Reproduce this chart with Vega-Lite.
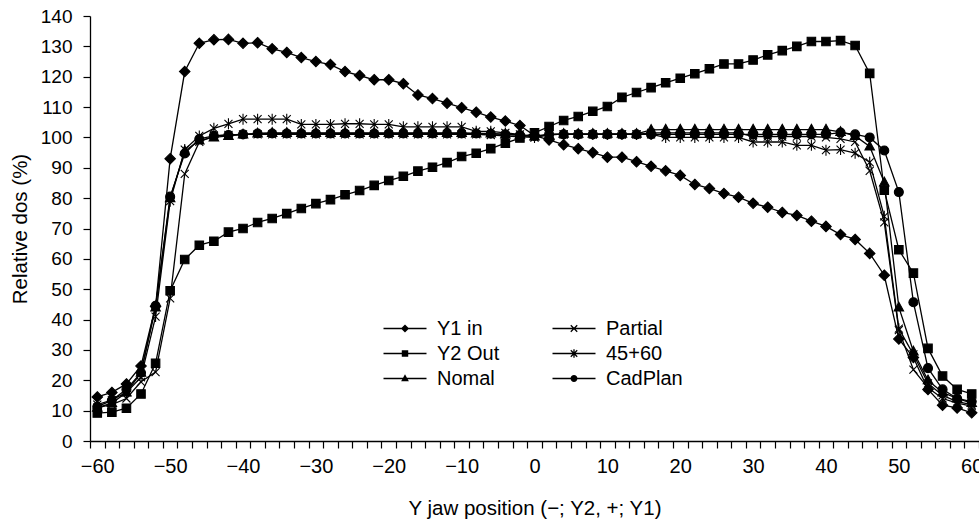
{
"$schema": "https://vega.github.io/schema/vega-lite/v6.json",
"width": 889, "height": 425,
"autosize": {"type": "none"},
"padding": {"left": 90, "top": 16, "right": 0, "bottom": 82},
"background": "white",
"config": {"view": {"stroke": null}, "font": "Liberation Sans",
 "axis": {"domainColor": "black", "domainWidth": 1.3, "tickColor": "black", "tickWidth": 1.2, "labelColor": "black", "titleColor": "black", "titleFontWeight": "normal", "grid": false, "labelFont": "Liberation Sans", "titleFont": "Liberation Sans"}},
"datasets": {"d": [
{"x":-60,"s":"Y1 in","v":14.5},{"x":-58,"s":"Y1 in","v":16},{"x":-56,"s":"Y1 in","v":18.8},{"x":-54,"s":"Y1 in","v":24.7},{"x":-52,"s":"Y1 in","v":44.4},{"x":-50,"s":"Y1 in","v":93},{"x":-48,"s":"Y1 in","v":121.7},{"x":-46,"s":"Y1 in","v":131},{"x":-44,"s":"Y1 in","v":132.2},{"x":-42,"s":"Y1 in","v":132.3},{"x":-40,"s":"Y1 in","v":131},{"x":-38,"s":"Y1 in","v":131.2},{"x":-36,"s":"Y1 in","v":129.2},{"x":-34,"s":"Y1 in","v":128},{"x":-32,"s":"Y1 in","v":126.3},{"x":-30,"s":"Y1 in","v":125},{"x":-28,"s":"Y1 in","v":124},{"x":-26,"s":"Y1 in","v":121.7},{"x":-24,"s":"Y1 in","v":120.4},{"x":-22,"s":"Y1 in","v":119},{"x":-20,"s":"Y1 in","v":119},{"x":-18,"s":"Y1 in","v":117.7},{"x":-16,"s":"Y1 in","v":114},{"x":-14,"s":"Y1 in","v":112.8},{"x":-12,"s":"Y1 in","v":111.3},{"x":-10,"s":"Y1 in","v":109.8},{"x":-8,"s":"Y1 in","v":108.3},{"x":-6,"s":"Y1 in","v":106.7},{"x":-4,"s":"Y1 in","v":105.4},{"x":-2,"s":"Y1 in","v":103.9},{"x":0,"s":"Y1 in","v":100.6},{"x":2,"s":"Y1 in","v":99.2},{"x":4,"s":"Y1 in","v":97.6},{"x":6,"s":"Y1 in","v":96.3},{"x":8,"s":"Y1 in","v":95},{"x":10,"s":"Y1 in","v":93.5},{"x":12,"s":"Y1 in","v":93.5},{"x":14,"s":"Y1 in","v":92},{"x":16,"s":"Y1 in","v":90.5},{"x":18,"s":"Y1 in","v":89},{"x":20,"s":"Y1 in","v":87.5},{"x":22,"s":"Y1 in","v":84.5},{"x":24,"s":"Y1 in","v":83.2},{"x":26,"s":"Y1 in","v":81.5},{"x":28,"s":"Y1 in","v":80.3},{"x":30,"s":"Y1 in","v":78.3},{"x":32,"s":"Y1 in","v":77},{"x":34,"s":"Y1 in","v":75.3},{"x":36,"s":"Y1 in","v":74.3},{"x":38,"s":"Y1 in","v":72.4},{"x":40,"s":"Y1 in","v":70.7},{"x":42,"s":"Y1 in","v":68},{"x":44,"s":"Y1 in","v":66.4},{"x":46,"s":"Y1 in","v":61.8},{"x":48,"s":"Y1 in","v":54.6},{"x":50,"s":"Y1 in","v":33.6},{"x":52,"s":"Y1 in","v":27.5},{"x":54,"s":"Y1 in","v":17},{"x":56,"s":"Y1 in","v":11.8},{"x":58,"s":"Y1 in","v":10.9},{"x":60,"s":"Y1 in","v":9.3},
{"x":-60,"s":"Y2 Out","v":9.2},{"x":-58,"s":"Y2 Out","v":9.5},{"x":-56,"s":"Y2 Out","v":10.8},{"x":-54,"s":"Y2 Out","v":15.5},{"x":-52,"s":"Y2 Out","v":25.6},{"x":-50,"s":"Y2 Out","v":49.5},{"x":-48,"s":"Y2 Out","v":59.8},{"x":-46,"s":"Y2 Out","v":64.5},{"x":-44,"s":"Y2 Out","v":65.8},{"x":-42,"s":"Y2 Out","v":68.8},{"x":-40,"s":"Y2 Out","v":70},{"x":-38,"s":"Y2 Out","v":72},{"x":-36,"s":"Y2 Out","v":73.3},{"x":-34,"s":"Y2 Out","v":74.9},{"x":-32,"s":"Y2 Out","v":76.6},{"x":-30,"s":"Y2 Out","v":78.2},{"x":-28,"s":"Y2 Out","v":79.5},{"x":-26,"s":"Y2 Out","v":81.1},{"x":-24,"s":"Y2 Out","v":82.5},{"x":-22,"s":"Y2 Out","v":84.2},{"x":-20,"s":"Y2 Out","v":85.8},{"x":-18,"s":"Y2 Out","v":87.2},{"x":-16,"s":"Y2 Out","v":88.9},{"x":-14,"s":"Y2 Out","v":90.2},{"x":-12,"s":"Y2 Out","v":91.7},{"x":-10,"s":"Y2 Out","v":93.7},{"x":-8,"s":"Y2 Out","v":94.8},{"x":-6,"s":"Y2 Out","v":96.3},{"x":-4,"s":"Y2 Out","v":98.1},{"x":-2,"s":"Y2 Out","v":99.8},{"x":0,"s":"Y2 Out","v":101.5},{"x":2,"s":"Y2 Out","v":103.6},{"x":4,"s":"Y2 Out","v":105.6},{"x":6,"s":"Y2 Out","v":106.9},{"x":8,"s":"Y2 Out","v":108.6},{"x":10,"s":"Y2 Out","v":110.2},{"x":12,"s":"Y2 Out","v":113.2},{"x":14,"s":"Y2 Out","v":114.8},{"x":16,"s":"Y2 Out","v":116.4},{"x":18,"s":"Y2 Out","v":118},{"x":20,"s":"Y2 Out","v":119.5},{"x":22,"s":"Y2 Out","v":121},{"x":24,"s":"Y2 Out","v":122.6},{"x":26,"s":"Y2 Out","v":124.2},{"x":28,"s":"Y2 Out","v":124.2},{"x":30,"s":"Y2 Out","v":125.5},{"x":32,"s":"Y2 Out","v":127.2},{"x":34,"s":"Y2 Out","v":128.6},{"x":36,"s":"Y2 Out","v":130},{"x":38,"s":"Y2 Out","v":131.6},{"x":40,"s":"Y2 Out","v":131.6},{"x":42,"s":"Y2 Out","v":131.9},{"x":44,"s":"Y2 Out","v":130.3},{"x":46,"s":"Y2 Out","v":121.1},{"x":48,"s":"Y2 Out","v":82.6},{"x":50,"s":"Y2 Out","v":63},{"x":52,"s":"Y2 Out","v":55.3},{"x":54,"s":"Y2 Out","v":30.5},{"x":56,"s":"Y2 Out","v":21.4},{"x":58,"s":"Y2 Out","v":17},{"x":60,"s":"Y2 Out","v":15.5},
{"x":-60,"s":"Nomal","v":11},{"x":-58,"s":"Nomal","v":12.5},{"x":-56,"s":"Nomal","v":16},{"x":-54,"s":"Nomal","v":22.5},{"x":-52,"s":"Nomal","v":44},{"x":-50,"s":"Nomal","v":80},{"x":-48,"s":"Nomal","v":95.5},{"x":-46,"s":"Nomal","v":99},{"x":-44,"s":"Nomal","v":100},{"x":-42,"s":"Nomal","v":100.5},{"x":-40,"s":"Nomal","v":101},{"x":-38,"s":"Nomal","v":101.3},{"x":-36,"s":"Nomal","v":101.5},{"x":-34,"s":"Nomal","v":101.5},{"x":-32,"s":"Nomal","v":101.5},{"x":-30,"s":"Nomal","v":101.5},{"x":-28,"s":"Nomal","v":101.5},{"x":-26,"s":"Nomal","v":101.5},{"x":-24,"s":"Nomal","v":101.5},{"x":-22,"s":"Nomal","v":101.5},{"x":-20,"s":"Nomal","v":101.5},{"x":-18,"s":"Nomal","v":101.5},{"x":-16,"s":"Nomal","v":101.5},{"x":-14,"s":"Nomal","v":101.5},{"x":-12,"s":"Nomal","v":101.5},{"x":-10,"s":"Nomal","v":101.5},{"x":-8,"s":"Nomal","v":101.3},{"x":-6,"s":"Nomal","v":101.3},{"x":-4,"s":"Nomal","v":101},{"x":-2,"s":"Nomal","v":100.8},{"x":0,"s":"Nomal","v":100.3},{"x":2,"s":"Nomal","v":100.8},{"x":4,"s":"Nomal","v":101.2},{"x":6,"s":"Nomal","v":101.2},{"x":8,"s":"Nomal","v":101.2},{"x":10,"s":"Nomal","v":101.2},{"x":12,"s":"Nomal","v":101.2},{"x":14,"s":"Nomal","v":101.2},{"x":16,"s":"Nomal","v":102.5},{"x":18,"s":"Nomal","v":102.6},{"x":20,"s":"Nomal","v":102.6},{"x":22,"s":"Nomal","v":102.6},{"x":24,"s":"Nomal","v":102.6},{"x":26,"s":"Nomal","v":102.6},{"x":28,"s":"Nomal","v":102.6},{"x":30,"s":"Nomal","v":102.6},{"x":32,"s":"Nomal","v":102.6},{"x":34,"s":"Nomal","v":102.6},{"x":36,"s":"Nomal","v":102.6},{"x":38,"s":"Nomal","v":102.6},{"x":40,"s":"Nomal","v":102.6},{"x":42,"s":"Nomal","v":101.8},{"x":44,"s":"Nomal","v":100.5},{"x":46,"s":"Nomal","v":97},{"x":48,"s":"Nomal","v":85.2},{"x":50,"s":"Nomal","v":44},{"x":52,"s":"Nomal","v":29.5},{"x":54,"s":"Nomal","v":20},{"x":56,"s":"Nomal","v":16},{"x":58,"s":"Nomal","v":14},{"x":60,"s":"Nomal","v":12.5},
{"x":-60,"s":"Partial","v":11},{"x":-58,"s":"Partial","v":12},{"x":-56,"s":"Partial","v":14},{"x":-54,"s":"Partial","v":19.5},{"x":-52,"s":"Partial","v":22.7},{"x":-50,"s":"Partial","v":47},{"x":-48,"s":"Partial","v":88},{"x":-46,"s":"Partial","v":98.5},{"x":-44,"s":"Partial","v":100.5},{"x":-42,"s":"Partial","v":100.8},{"x":-40,"s":"Partial","v":101},{"x":-38,"s":"Partial","v":101},{"x":-36,"s":"Partial","v":101},{"x":-34,"s":"Partial","v":101},{"x":-32,"s":"Partial","v":101},{"x":-30,"s":"Partial","v":101},{"x":-28,"s":"Partial","v":101},{"x":-26,"s":"Partial","v":101},{"x":-24,"s":"Partial","v":101},{"x":-22,"s":"Partial","v":101},{"x":-20,"s":"Partial","v":101},{"x":-18,"s":"Partial","v":101},{"x":-16,"s":"Partial","v":101},{"x":-14,"s":"Partial","v":101},{"x":-12,"s":"Partial","v":101},{"x":-10,"s":"Partial","v":101},{"x":-8,"s":"Partial","v":101},{"x":-6,"s":"Partial","v":100.8},{"x":-4,"s":"Partial","v":100.5},{"x":-2,"s":"Partial","v":100.2},{"x":0,"s":"Partial","v":100},{"x":2,"s":"Partial","v":101},{"x":4,"s":"Partial","v":101},{"x":6,"s":"Partial","v":101},{"x":8,"s":"Partial","v":101},{"x":10,"s":"Partial","v":101},{"x":12,"s":"Partial","v":101},{"x":14,"s":"Partial","v":101},{"x":16,"s":"Partial","v":101.5},{"x":18,"s":"Partial","v":101.5},{"x":20,"s":"Partial","v":101.5},{"x":22,"s":"Partial","v":101.5},{"x":24,"s":"Partial","v":101.5},{"x":26,"s":"Partial","v":101.5},{"x":28,"s":"Partial","v":101.5},{"x":30,"s":"Partial","v":100.3},{"x":32,"s":"Partial","v":100.3},{"x":34,"s":"Partial","v":100.3},{"x":36,"s":"Partial","v":100.3},{"x":38,"s":"Partial","v":100.3},{"x":40,"s":"Partial","v":100},{"x":42,"s":"Partial","v":99.5},{"x":44,"s":"Partial","v":98.5},{"x":46,"s":"Partial","v":89},{"x":48,"s":"Partial","v":72},{"x":50,"s":"Partial","v":36.5},{"x":52,"s":"Partial","v":23.5},{"x":54,"s":"Partial","v":17.5},{"x":56,"s":"Partial","v":14},{"x":58,"s":"Partial","v":12.5},{"x":60,"s":"Partial","v":11.5},
{"x":-60,"s":"45+60","v":12},{"x":-58,"s":"45+60","v":13.5},{"x":-56,"s":"45+60","v":16},{"x":-54,"s":"45+60","v":21},{"x":-52,"s":"45+60","v":41},{"x":-50,"s":"45+60","v":79},{"x":-48,"s":"45+60","v":96},{"x":-46,"s":"45+60","v":100.5},{"x":-44,"s":"45+60","v":103},{"x":-42,"s":"45+60","v":104.5},{"x":-40,"s":"45+60","v":106},{"x":-38,"s":"45+60","v":106},{"x":-36,"s":"45+60","v":106},{"x":-34,"s":"45+60","v":106},{"x":-32,"s":"45+60","v":104.3},{"x":-30,"s":"45+60","v":104.3},{"x":-28,"s":"45+60","v":104.3},{"x":-26,"s":"45+60","v":104.5},{"x":-24,"s":"45+60","v":104.5},{"x":-22,"s":"45+60","v":104.3},{"x":-20,"s":"45+60","v":104.3},{"x":-18,"s":"45+60","v":103.5},{"x":-16,"s":"45+60","v":103.5},{"x":-14,"s":"45+60","v":103.5},{"x":-12,"s":"45+60","v":103.5},{"x":-10,"s":"45+60","v":103.5},{"x":-8,"s":"45+60","v":102},{"x":-6,"s":"45+60","v":102},{"x":-4,"s":"45+60","v":101.5},{"x":-2,"s":"45+60","v":101},{"x":0,"s":"45+60","v":100},{"x":2,"s":"45+60","v":101},{"x":4,"s":"45+60","v":101},{"x":6,"s":"45+60","v":101},{"x":8,"s":"45+60","v":101},{"x":10,"s":"45+60","v":101},{"x":12,"s":"45+60","v":101},{"x":14,"s":"45+60","v":101},{"x":16,"s":"45+60","v":101},{"x":18,"s":"45+60","v":100},{"x":20,"s":"45+60","v":100},{"x":22,"s":"45+60","v":100},{"x":24,"s":"45+60","v":100},{"x":26,"s":"45+60","v":100},{"x":28,"s":"45+60","v":100},{"x":30,"s":"45+60","v":98.5},{"x":32,"s":"45+60","v":98.5},{"x":34,"s":"45+60","v":98.5},{"x":36,"s":"45+60","v":97.4},{"x":38,"s":"45+60","v":97.4},{"x":40,"s":"45+60","v":95.8},{"x":42,"s":"45+60","v":96},{"x":44,"s":"45+60","v":94.8},{"x":46,"s":"45+60","v":91.8},{"x":48,"s":"45+60","v":74},{"x":50,"s":"45+60","v":37},{"x":52,"s":"45+60","v":28.5},{"x":54,"s":"45+60","v":19},{"x":56,"s":"45+60","v":15},{"x":58,"s":"45+60","v":13},{"x":60,"s":"45+60","v":12},
{"x":-60,"s":"CadPlan","v":11.3},{"x":-58,"s":"CadPlan","v":13.4},{"x":-56,"s":"CadPlan","v":17},{"x":-54,"s":"CadPlan","v":22.5},{"x":-52,"s":"CadPlan","v":44.5},{"x":-50,"s":"CadPlan","v":80.5},{"x":-48,"s":"CadPlan","v":94.7},{"x":-46,"s":"CadPlan","v":99.5},{"x":-44,"s":"CadPlan","v":100.5},{"x":-42,"s":"CadPlan","v":100.8},{"x":-40,"s":"CadPlan","v":101},{"x":-38,"s":"CadPlan","v":101.3},{"x":-36,"s":"CadPlan","v":101.3},{"x":-34,"s":"CadPlan","v":101.3},{"x":-32,"s":"CadPlan","v":101.3},{"x":-30,"s":"CadPlan","v":101.3},{"x":-28,"s":"CadPlan","v":101.3},{"x":-26,"s":"CadPlan","v":101.3},{"x":-24,"s":"CadPlan","v":101.3},{"x":-22,"s":"CadPlan","v":101.3},{"x":-20,"s":"CadPlan","v":101.3},{"x":-18,"s":"CadPlan","v":101.3},{"x":-16,"s":"CadPlan","v":101.3},{"x":-14,"s":"CadPlan","v":101.3},{"x":-12,"s":"CadPlan","v":101.3},{"x":-10,"s":"CadPlan","v":101.3},{"x":-8,"s":"CadPlan","v":101.3},{"x":-6,"s":"CadPlan","v":101.2},{"x":-4,"s":"CadPlan","v":101},{"x":-2,"s":"CadPlan","v":100.8},{"x":0,"s":"CadPlan","v":100.5},{"x":2,"s":"CadPlan","v":101},{"x":4,"s":"CadPlan","v":101},{"x":6,"s":"CadPlan","v":101},{"x":8,"s":"CadPlan","v":101},{"x":10,"s":"CadPlan","v":101},{"x":12,"s":"CadPlan","v":101},{"x":14,"s":"CadPlan","v":101},{"x":16,"s":"CadPlan","v":101},{"x":18,"s":"CadPlan","v":101},{"x":20,"s":"CadPlan","v":101},{"x":22,"s":"CadPlan","v":101},{"x":24,"s":"CadPlan","v":101},{"x":26,"s":"CadPlan","v":101},{"x":28,"s":"CadPlan","v":101},{"x":30,"s":"CadPlan","v":101},{"x":32,"s":"CadPlan","v":101},{"x":34,"s":"CadPlan","v":101},{"x":36,"s":"CadPlan","v":101},{"x":38,"s":"CadPlan","v":101},{"x":40,"s":"CadPlan","v":101},{"x":42,"s":"CadPlan","v":101.6},{"x":44,"s":"CadPlan","v":101},{"x":46,"s":"CadPlan","v":100},{"x":48,"s":"CadPlan","v":95.7},{"x":50,"s":"CadPlan","v":82},{"x":52,"s":"CadPlan","v":45.7},{"x":54,"s":"CadPlan","v":24},{"x":56,"s":"CadPlan","v":17},{"x":58,"s":"CadPlan","v":14},{"x":60,"s":"CadPlan","v":13}
]},
"data": {"name": "d"},
"encoding": {
 "x": {"field": "x", "type": "quantitative",
  "scale": {"domain": [-61, 61], "nice": false, "zero": false},
  "axis": {"values": [-61,-59,-57,-55,-53,-51,-49,-47,-45,-43,-41,-39,-37,-35,-33,-31,-29,-27,-25,-23,-21,-19,-17,-15,-13,-11,-9,-7,-5,-3,-1,1,3,5,7,9,11,13,15,17,19,21,23,25,27,29,31,33,35,37,39,41,43,45,47,49,51,53,55,57,59,61],
   "labelExpr": "(datum.value + 1) % 10 === 0 ? replace(toString(datum.value + 1), '-', '\u2212') : ''",
   "labelOffset": 7.29, "labelFlush": false, "labelOverlap": false, "labelBound": false,
   "tickSize": 7, "labelPadding": 8, "labelFontSize": 20,
   "title": "Y jaw position (\u2212; Y2, +; Y1)", "titleFontSize": 20.5, "titlePadding": 22}},
 "y": {"field": "v", "type": "quantitative",
  "scale": {"domain": [0, 140], "nice": false, "zero": true},
  "axis": {"values": [0,10,20,30,40,50,60,70,80,90,100,110,120,130,140],
   "tickSize": 7, "labelPadding": 11, "labelFontSize": 19,
   "title": "Relative dos (%)", "titleFontSize": 20.5, "titlePadding": 10}}
},
"layer": [
 {"mark": {"type": "line", "stroke": "black", "strokeWidth": 1.3},
  "encoding": {"detail": {"field": "s"}}},
 {"mark": {"type": "point", "filled": true, "fill": "black", "stroke": "black", "strokeWidth": 1.1, "opacity": 1, "size": 100},
  "encoding": {"shape": {"field": "s", "type": "nominal",
   "scale": {"domain": ["Y1 in", "Y2 Out", "Nomal", "Partial", "45+60", "CadPlan"],
    "range": ["M0,-1.05L1.05,0L0,1.05L-1.05,0Z", "M-0.85,-0.85H0.85V0.85H-0.85Z", "M0,-1.05L0.95,0.7L-0.95,0.7Z", "M-0.8,-0.8L0.8,0.8M-0.8,0.8L0.8,-0.8", "M-0.8,-0.8L0.8,0.8M-0.8,0.8L0.8,-0.8M0,-1.1V1.1", "M0.9,0A0.9,0.9,0,1,1,-0.9,0A0.9,0.9,0,1,1,0.9,0Z"]},
   "legend": null}}},
 {"transform": [{"filter": "datum.v < -1"}],
  "mark": {"type": "point", "filled": true, "fill": "black", "stroke": "black", "strokeWidth": 1, "opacity": 1, "size": 1849},
  "encoding": {"shape": {"field": "s", "type": "nominal",
   "scale": {"domain": ["Y1 in", "Y2 Out", "Nomal", "Partial", "45+60", "CadPlan"],
    "range": [
     "M-1,-0.03H1V0.03H-1ZM0,-0.19L0.19,0L0,0.19L-0.19,0Z",
     "M-1,-0.03H1V0.03H-1ZM-0.15,-0.15H0.15V0.15H-0.15Z",
     "M-1,-0.03H1V0.03H-1ZM0,-0.2L0.18,0.13L-0.18,0.13Z",
     "M-1,-0.03H1V0.03H-1ZM-0.129,-0.171L0.171,0.129L0.129,0.171L-0.171,-0.129ZM0.129,-0.171L0.171,-0.129L-0.129,0.171L-0.171,0.129Z",
     "M-1,-0.03H1V0.03H-1ZM-0.129,-0.171L0.171,0.129L0.129,0.171L-0.171,-0.129ZM0.129,-0.171L0.171,-0.129L-0.129,0.171L-0.171,0.129ZM-0.03,-0.2H0.03V0.2H-0.03Z",
     "M-1,-0.03H1V0.03H-1ZM0.16,0A0.16,0.16,0,1,1,-0.16,0A0.16,0.16,0,1,1,0.16,0Z"]},
   "legend": {"title": null, "orient": "none", "legendX": 293, "legendY": 300, "direction": "vertical", "columns": 2, "columnPadding": 52, "rowPadding": 0, "padding": 0,
    "labelFontSize": 20, "labelFont": "Liberation Sans", "labelColor": "black", "labelOffset": 10,
    "symbolSize": 1849, "symbolFillColor": "black", "symbolStrokeColor": "black", "symbolStrokeWidth": 1, "symbolOpacity": 1, "clipHeight": 25}}}}
],
"resolve": {"scale": {"shape": "independent"}, "legend": {"shape": "independent"}}
}
